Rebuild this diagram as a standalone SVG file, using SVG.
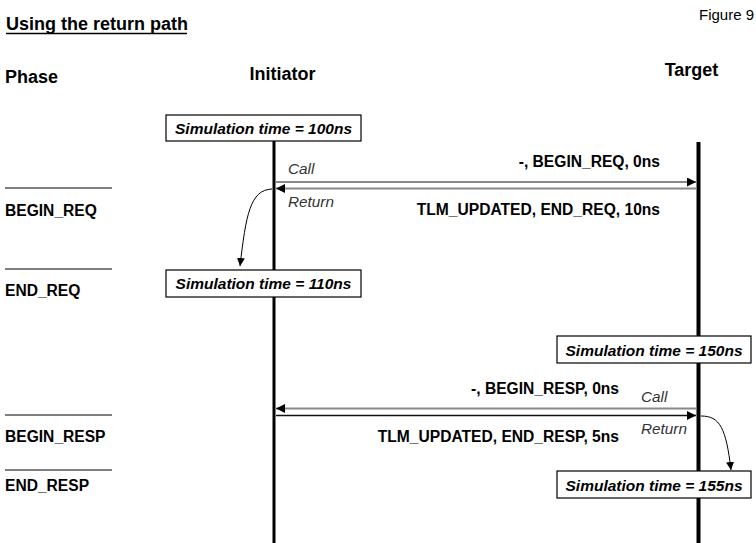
<svg xmlns="http://www.w3.org/2000/svg" width="756" height="543" viewBox="0 0 756 543">
<defs>
<marker id="ah" viewBox="0 0 10 10" refX="10" refY="5" markerWidth="9" markerHeight="9" markerUnits="userSpaceOnUse" orient="auto">
<path d="M0,0 L10,5 L0,10 z" fill="#000"/>
</marker>
<marker id="ahs" viewBox="0 0 10 10" refX="10" refY="5" markerWidth="8" markerHeight="8" markerUnits="userSpaceOnUse" orient="auto">
<path d="M0,0 L10,5 L0,10 z" fill="#000"/>
</marker>
</defs>
<style>
text{font-family:"Liberation Sans",Arial,sans-serif;fill:#000}
.h{font-weight:bold;font-size:18px}
.ph{font-weight:bold;font-size:15.6px}
.msg{font-weight:bold;font-size:15.6px;text-anchor:end}
.it{font-style:italic;font-size:15.3px;fill:#333}
.box rect{fill:#fff;stroke:#000;stroke-width:1.2}
.box text{font-style:italic;font-weight:bold;font-size:15.5px;text-anchor:middle}
.pl{stroke:#000;stroke-width:1}
.life{stroke:#000}
.msgl{fill:none;stroke:#888;stroke-width:1.8}
.curve{fill:none;stroke:#000;stroke-width:1}
</style>
<rect width="756" height="543" fill="#fff"/>
<g id="title">
<text x="6" y="30" class="h">Using the return path</text>
<line x1="6" y1="33.5" x2="187" y2="33.5" stroke="#000" stroke-width="1.6"/>
</g>
<text x="754" y="20" font-size="15" text-anchor="end">Figure 9</text>
<g id="headers">
<text x="5" y="83" class="h">Phase</text>
<text x="282.5" y="80" class="h" text-anchor="middle">Initiator</text>
<text x="691.5" y="76" class="h" text-anchor="middle">Target</text>
</g>
<g id="phases">
<line x1="5" y1="188" x2="112" y2="188" class="pl"/>
<line x1="5" y1="269" x2="112" y2="269" class="pl"/>
<line x1="5" y1="415" x2="112" y2="415" class="pl"/>
<line x1="5" y1="470" x2="112" y2="470" class="pl"/>
<text x="5" y="216" class="ph">BEGIN_REQ</text>
<text x="5" y="296" class="ph">END_REQ</text>
<text x="5" y="442" class="ph">BEGIN_RESP</text>
<text x="5" y="491" class="ph">END_RESP</text>
</g>
<g id="lifelines">
<line id="initiator-line" x1="274" y1="140" x2="274" y2="543" class="life" stroke-width="3"/>
<line id="target-line" x1="698.5" y1="142" x2="698.5" y2="543" class="life" stroke-width="4"/>
</g>
<g id="connectors">
<line x1="276" y1="182" x2="696" y2="182" class="msgl" marker-end="url(#ah)"/>
<line x1="696" y1="188.5" x2="276" y2="188.5" class="msgl" marker-end="url(#ah)"/>
<path d="M272,189 C250,190 246,215 240,266" class="curve" marker-end="url(#ahs)"/>
<line x1="696" y1="408.5" x2="276" y2="408.5" class="msgl" marker-end="url(#ah)"/>
<line x1="276" y1="415.5" x2="696" y2="415.5" stroke="#111" stroke-width="1.6" marker-end="url(#ah)"/>
<path d="M701,416 C720,416 726,428 731,470" class="curve" marker-end="url(#ahs)"/>
</g>
<g id="labels">
<text x="288" y="174" class="it">Call</text>
<text x="288" y="207" class="it">Return</text>
<text x="660" y="167" class="msg">-, BEGIN_REQ, 0ns</text>
<text x="660" y="215" class="msg">TLM_UPDATED, END_REQ, 10ns</text>
<text x="641" y="402" class="it">Call</text>
<text x="641" y="434" class="it">Return</text>
<text x="619" y="394" class="msg">-, BEGIN_RESP, 0ns</text>
<text x="619" y="442" class="msg">TLM_UPDATED, END_RESP, 5ns</text>
</g>
<g id="sim100" class="box">
<rect x="166" y="115" width="195" height="26"/>
<text x="263.5" y="133.5">Simulation time = 100ns</text>
</g>
<g id="sim110" class="box">
<rect x="166" y="270" width="195" height="27"/>
<text x="263.5" y="288.5">Simulation time = 110ns</text>
</g>
<g id="sim150" class="box">
<rect x="557" y="336" width="194" height="27"/>
<text x="654" y="355.5">Simulation time = 150ns</text>
</g>
<g id="sim155" class="box">
<rect x="557" y="471" width="194" height="27"/>
<text x="654" y="490.5">Simulation time = 155ns</text>
</g>
</svg>
